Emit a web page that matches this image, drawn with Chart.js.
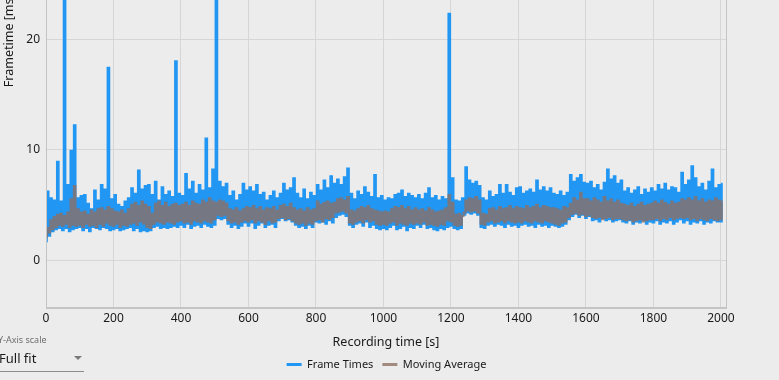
<!DOCTYPE html>
<html lang="en">
<head>
<meta charset="UTF-8">
<title>Frame Times</title>
<script src="https://cdn.jsdelivr.net/npm/chart.js"></script>
<style>
  html, body { margin: 0; padding: 0; background: #ececec; overflow: hidden; }
  body { width: 779px; height: 380px; position: relative; font-family: "Noto Sans", sans-serif; }
  #wrap { position: absolute; left: 0; top: -240px; width: 779px; height: 628px; }
  .yscale { position: absolute; left: -2px; top: 333px; font-size: 9px; color: #6e6e6e; }
  .fullfit { position: absolute; left: -1px; top: 349px; font-size: 13px; color: #1a1a1a; }
  .arrow { position: absolute; left: 74px; top: 356px; width: 0; height: 0;
           border-left: 4px solid transparent; border-right: 4px solid transparent; border-top: 4px solid #7a7a7a; }
  .underline { position: absolute; left: 0; top: 371px; width: 84px; height: 1px; background: #8c8c8c; }
</style>
</head>
<body>
<div id="wrap"><canvas id="chart" width="779" height="628"></canvas></div>
<div class="yscale">Y-Axis scale</div>
<div class="fullfit">Full fit</div>
<div class="arrow"></div>
<div class="underline"></div>

<script>
  // recording time bins: 10 s each, starting at 0 s
  const binSize = 10;

  // frame times: lowest / highest reading in each bin [ms]
  const ftLow = [
    1.7, 2.2, 2.6, 2.8, 2.9, 2.7, 2.9, 2.6, 2.8, 2.9,
    3.0, 2.7, 2.9, 2.6, 3.0, 2.9, 2.8, 3.0, 2.9, 2.7,
    2.8, 2.9, 2.7, 2.8, 2.9, 3.0, 2.7, 2.9, 2.6, 2.7,
    2.6, 2.7, 3.0, 3.1, 2.9, 3.0, 2.9, 3.0, 3.1, 3.0,
    3.2, 3.0, 3.3, 2.9, 3.1, 3.2, 3.0, 3.3, 3.1, 3.0,
    3.2, 3.8, 3.7, 3.8, 3.3, 3.0, 3.2, 2.9, 3.1, 3.4,
    3.1, 3.4, 2.9, 3.2, 3.4, 3.0, 3.2, 3.3, 3.0, 3.6,
    3.8, 3.6, 3.7, 3.5, 3.2, 3.0, 3.1, 2.9, 3.2, 3.0,
    3.5, 3.4, 3.5, 3.3, 3.6, 3.4, 3.9, 4.1, 4.2, 4.0,
    3.2, 3.0, 3.3, 3.4, 3.1, 3.5, 3.0, 3.2, 2.9, 2.8,
    2.9, 2.8, 3.0, 3.2, 2.8, 2.9, 3.1, 2.7, 3.0, 2.9,
    3.2, 3.0, 3.3, 2.9, 3.0, 2.8, 2.7, 2.9, 2.8, 3.0,
    3.1, 2.9, 2.8, 2.9, 4.1, 4.3, 4.2, 4.3, 4.1, 3.0,
    2.9, 3.2, 3.3, 3.1, 3.3, 3.2, 3.0, 3.3, 3.1, 3.2,
    3.0, 3.2, 3.3, 3.1, 3.2, 3.0, 3.3, 3.1, 3.2, 3.0,
    3.2, 3.1, 3.0, 3.1, 3.3, 3.7, 4.0, 4.2, 3.9, 4.1,
    3.8, 4.0, 3.6, 3.7, 3.5, 3.8, 3.6, 3.7, 3.5, 3.6,
    3.7, 3.5, 3.4, 3.6, 3.3, 3.5, 3.4, 3.6, 3.3, 3.5,
    3.4, 3.6, 3.3, 3.5, 3.4, 3.6, 3.3, 3.5, 3.7, 3.4,
    3.6, 3.3, 3.5, 3.4, 3.6, 3.3, 3.5, 3.4, 3.6, 3.5,
    3.5
  ];
  const ftHigh = [
    6.2, 5.6, 5.4, 8.9, 5.3, 43.5, 6.8, 9.9, 12.2, 5.6,
    5.8, 5.9, 5.1, 4.6, 6.3, 5.4, 6.8, 6.4, 17.4, 5.5,
    5.9, 5.0, 4.8, 5.3, 5.6, 6.5, 6.0, 8.1, 6.4, 6.7,
    6.8, 5.9, 7.1, 5.4, 6.6, 5.9, 6.2, 5.7, 18.0, 6.0,
    5.8, 7.8, 6.4, 7.1, 6.0, 6.8, 6.3, 11.0, 6.5, 8.2,
    44.0, 7.1, 6.6, 6.9, 5.8, 6.2, 5.4, 5.9, 6.9, 6.3,
    6.6, 6.2, 6.8, 5.9, 6.1, 5.4, 5.8, 6.2, 5.6, 6.0,
    6.9, 6.3, 6.5, 7.4, 6.0, 5.6, 6.4, 5.5, 6.1, 5.8,
    6.8, 6.3, 7.2, 6.5, 7.6, 6.9, 7.3, 6.8, 7.5, 8.3,
    6.0, 5.5, 6.2, 5.9, 6.6, 6.1, 5.7, 7.7, 5.6, 5.8,
    5.4, 5.6, 5.5, 5.9, 6.0, 6.3, 5.7, 6.0, 5.8, 5.6,
    5.9, 5.5, 6.0, 6.5, 5.6, 5.8, 5.4, 5.7, 5.5, 22.3,
    7.4, 5.4, 5.3, 5.6, 8.4, 7.2, 6.9, 7.1, 6.7, 5.6,
    5.4, 6.2, 5.7, 5.9, 6.8, 6.0, 6.8, 6.1, 5.8, 6.5,
    6.6, 6.0, 6.2, 6.4, 6.1, 7.2, 6.3, 6.6, 6.2, 6.5,
    6.0, 5.9, 6.2, 5.8, 6.1, 7.7, 7.1, 7.4, 7.7, 7.0,
    6.9, 7.1, 6.5, 6.8, 6.3, 7.0, 8.2, 7.3, 7.6, 6.9,
    7.2, 6.2, 6.5, 6.0, 6.3, 6.6, 5.9, 6.4, 6.1, 6.5,
    6.2, 6.8, 6.4, 6.9, 6.3, 6.6, 6.5, 6.1, 7.9, 6.8,
    7.2, 8.5, 7.4, 6.6, 6.9, 6.3, 7.1, 8.2, 6.5, 6.8,
    6.9
  ];

  // moving average: lowest / highest value in each bin [ms]
  const maLow = [
    2.1, 2.5, 2.8, 3.0, 3.2, 3.1, 3.3, 3.0, 3.2, 3.1,
    3.2, 3.0, 3.3, 3.1, 3.2, 3.0, 3.3, 3.1, 3.4, 3.2,
    3.1, 3.3, 3.0, 3.2, 3.1, 3.3, 3.4, 3.2, 3.5, 3.3,
    3.0, 2.9, 3.3, 3.5, 3.4, 3.3, 3.5, 3.4, 3.3, 3.5,
    3.6, 3.4, 3.5, 3.3, 3.6, 3.5, 3.4, 3.6, 3.5, 3.4,
    3.7, 4.1, 4.0, 4.1, 3.6, 3.4, 3.5, 3.3, 3.5, 3.6,
    3.5, 3.7, 3.4, 3.6, 3.5, 3.3, 3.6, 3.4, 3.5, 3.8,
    3.9, 3.7, 3.8, 3.6, 3.4, 3.3, 3.4, 3.2, 3.4, 3.3,
    3.6, 3.7, 3.5, 3.8, 3.7, 3.9, 4.3, 4.4, 4.5, 4.3,
    3.4, 3.3, 3.5, 3.6, 3.4, 3.7, 3.5, 3.6, 3.3, 3.2,
    3.3, 3.2, 3.4, 3.5, 3.2, 3.4, 3.3, 3.2, 3.4, 3.3,
    3.4, 3.3, 3.5, 3.2, 3.3, 3.2, 3.1, 3.3, 3.2, 3.6,
    3.5, 3.2, 3.1, 3.2, 4.3, 4.5, 4.4, 4.5, 4.3, 3.3,
    3.2, 3.5, 3.6, 3.4, 3.5, 3.6, 3.4, 3.6, 3.5, 3.4,
    3.5, 3.4, 3.6, 3.5, 3.4, 3.6, 3.5, 3.4, 3.6, 3.5,
    3.4, 3.3, 3.2, 3.4, 3.5, 3.9, 4.2, 4.3, 4.1, 4.2,
    4.0, 4.1, 3.9, 3.8, 3.9, 3.7, 3.8, 3.9, 3.7, 3.8,
    3.8, 3.7, 3.6, 3.7, 3.5, 3.6, 3.7, 3.5, 3.6, 3.7,
    3.7, 3.8, 3.6, 3.8, 3.7, 3.9, 3.7, 3.8, 3.9, 3.8,
    3.9, 3.7, 3.8, 3.6, 3.8, 3.7, 3.6, 3.8, 3.7, 3.6,
    3.7
  ];
  const maHigh = [
    2.9, 3.6, 3.9, 4.1, 4.2, 4.0, 4.3, 5.5, 6.7, 4.6,
    4.3, 4.4, 4.1, 4.5, 4.3, 4.6, 4.7, 4.5, 4.8, 4.6,
    4.4, 4.3, 4.5, 4.2, 4.6, 5.0, 5.2, 4.9, 5.3, 5.0,
    4.8, 4.2, 5.1, 5.3, 4.9, 5.2, 4.8, 5.0, 5.1, 4.9,
    5.0, 5.2, 4.9, 5.3, 5.1, 5.0, 5.4, 5.2, 5.6, 5.3,
    5.2, 5.4, 5.3, 5.1, 4.6, 4.5, 4.7, 4.4, 4.6, 4.8,
    4.7, 4.9, 4.6, 4.8, 4.5, 4.7, 4.6, 4.8, 4.5, 4.9,
    5.0, 4.8, 5.1, 4.7, 4.5, 4.6, 4.4, 4.7, 4.5, 4.6,
    5.3, 5.0, 5.2, 5.3, 5.1, 5.2, 5.5, 5.6, 5.4, 5.7,
    4.5, 4.4, 4.6, 4.8, 4.7, 4.9, 4.6, 4.5, 4.4, 4.3,
    4.4, 4.3, 4.6, 4.8, 4.7, 4.9, 4.6, 4.8, 4.5, 4.7,
    4.5, 4.6, 4.4, 4.7, 4.5, 4.3, 4.4, 4.5, 4.7, 5.9,
    5.2, 4.1, 4.2, 4.0, 5.4, 5.6, 5.5, 5.7, 5.4, 4.2,
    4.1, 4.6, 4.7, 4.5, 4.8, 4.6, 4.7, 4.9, 4.6, 4.8,
    4.7, 4.6, 4.9, 4.7, 4.8, 5.0, 4.7, 4.9, 4.8, 4.7,
    4.7, 4.6, 4.5, 4.8, 4.7, 5.1, 5.6, 5.4, 6.1, 5.5,
    5.5, 5.3, 5.6, 5.4, 5.2, 5.7, 5.3, 5.5, 5.2, 5.4,
    5.1, 5.0, 4.9, 5.1, 4.8, 5.0, 5.2, 4.9, 5.0, 5.1,
    5.3, 5.1, 5.4, 5.2, 5.0, 5.3, 5.1, 5.2, 5.5, 5.4,
    5.6, 5.4, 5.7, 5.3, 5.5, 5.2, 5.4, 5.3, 5.6, 5.4,
    5.3
  ];

  const xTicks = [0, 200, 400, 600, 800, 1000, 1200, 1400, 1600, 1800, 2000];
  const yTicks = [0, 10, 20, 30, 40];

  // each bin becomes a low point then a high point, so the line fills the band
  function band(lows, highs) {
    const pts = [];
    lows.forEach((lo, i) => {
      pts.push({ x: i * binSize, y: lo });
      pts.push({ x: i * binSize + binSize / 2, y: highs[i] });
    });
    return pts;
  }

  const gridColor = '#d6d6d6';
  const textColor = '#1a1a1a';
  const fontFamily = '"Noto Sans", sans-serif';

  const framePlugin = {
    id: 'frame',
    afterDraw(chart) {
      const a = chart.chartArea, c = chart.ctx;
      c.save();
      c.strokeStyle = '#c4c4c4';
      c.lineWidth = 1;
      c.strokeRect(Math.round(a.left) + 0.5, Math.round(a.top) + 0.5,
                   Math.round(a.right - a.left), Math.round(a.bottom - a.top));
      c.restore();
    }
  };

  const ctx = document.getElementById('chart').getContext('2d');

  new Chart(ctx, {
    type: 'line',
    data: {
      datasets: [{
        label: 'Frame Times',
        data: band(ftLow, ftHigh),
        borderColor: '#2196f3',
        backgroundColor: '#2196f3',
        borderWidth: 2,
        stepped: 'middle',
        order: 1
      }, {
        label: 'Moving Average',
        data: band(maLow, maHigh),
        borderColor: 'rgba(141,110,99,0.78)',
        backgroundColor: '#a28a81',
        borderWidth: 2,
        stepped: 'middle',
        order: 0
      }]
    },
    options: {
      responsive: false,
      animation: false,
      devicePixelRatio: 1,
      normalized: true,
      elements: { point: { radius: 0 }, line: { tension: 0 } },
      layout: { padding: { top: 14, right: 6, left: 0, bottom: 8 } },
      scales: {
        x: {
          type: 'linear',
          min: 0,
          max: 2015,
          afterBuildTicks: s => { s.ticks = xTicks.map(v => ({ value: v })); },
          grid: { color: gridColor, drawTicks: false },
          border: { color: '#c4c4c4' },
          ticks: { font: { family: fontFamily, size: 12 }, color: textColor, padding: 4, maxRotation: 0,
                   callback: v => String(v) },
          title: { display: true, text: 'Recording time [s]', color: textColor,
                   font: { family: fontFamily, size: 12.5 }, padding: { top: 5, bottom: 0 } }
        },
        y: {
          min: -4.3,
          max: 44,
          afterBuildTicks: s => { s.ticks = yTicks.map(v => ({ value: v })); },
          afterFit: s => { s.width = 46; },
          grid: { color: gridColor, drawTicks: false },
          border: { color: '#c4c4c4' },
          ticks: { font: { family: fontFamily, size: 12 }, color: textColor, padding: 6,
                   callback: v => String(v) },
          title: { display: true, text: 'Frametime [ms]', color: textColor,
                   font: { family: fontFamily, size: 12.5 }, padding: { top: 2, bottom: 0 } }
        },
        // empty strip on the right so the legend centres under the plot
        yRight: {
          position: 'right',
          afterFit: s => { s.width = 47; },
          grid: { display: false },
          ticks: { display: false },
          border: { display: false }
        }
      },
      plugins: {
        tooltip: { enabled: false },
        legend: {
          position: 'bottom',
          labels: {
            boxWidth: 15,
            boxHeight: 3,
            padding: 9,
            color: textColor,
            font: { family: fontFamily, size: 11 },
            sort: (a, b) => a.datasetIndex - b.datasetIndex,
            generateLabels: chart =>
              Chart.defaults.plugins.legend.labels.generateLabels(chart)
                .map(l => Object.assign(l, { lineWidth: 0, strokeStyle: 'transparent' }))
          }
        }
      }
    },
    plugins: [framePlugin]
  });
</script>
</body>
</html>
